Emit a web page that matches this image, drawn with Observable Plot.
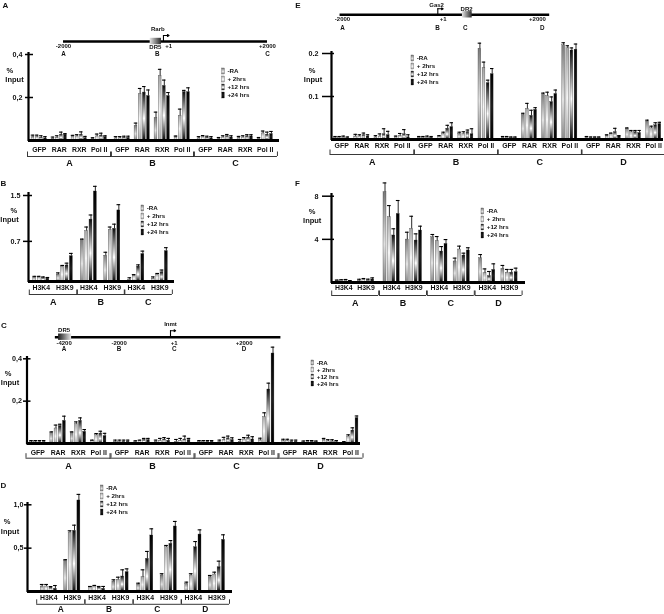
<!DOCTYPE html>
<html><head><meta charset="utf-8">
<script src="https://cdn.jsdelivr.net/npm/d3@7"></script>
<script src="https://cdn.jsdelivr.net/npm/@observablehq/plot@0.6"></script>
<style>
html,body{margin:0;padding:0;background:#fff;}
#fig{position:relative;width:664px;height:614px;overflow:hidden;background:#fff;}
#fig svg{will-change:transform;}
</style></head><body>
<svg width="0" height="0" style="position:absolute">
 <defs>
  <linearGradient id="tp0" x1="0" y1="0" x2="0" y2="1">
   <stop offset="0" stop-color="#7a7a7a"/><stop offset="0.58" stop-color="#e2e2e2"/><stop offset="1" stop-color="#8a8a8a"/>
  </linearGradient>
  <linearGradient id="tp1" x1="0" y1="0" x2="0" y2="1">
   <stop offset="0" stop-color="#a5a5a5"/><stop offset="0.55" stop-color="#f6f6f6"/><stop offset="1" stop-color="#b0b0b0"/>
  </linearGradient>
  <linearGradient id="tp2" x1="0" y1="0" x2="0" y2="1">
   <stop offset="0" stop-color="#0a0a0a"/><stop offset="0.55" stop-color="#ffffff"/><stop offset="1" stop-color="#0a0a0a"/>
  </linearGradient>
  <linearGradient id="tp3" x1="0" y1="0" x2="0" y2="1">
   <stop offset="0" stop-color="#000"/><stop offset="0.5" stop-color="#1e1e1e"/><stop offset="1" stop-color="#000"/>
  </linearGradient>
  <linearGradient id="drLR" x1="0" y1="0" x2="1" y2="0">
   <stop offset="0" stop-color="#e6e6e6"/><stop offset="1" stop-color="#2a2a2a"/>
  </linearGradient>
  <linearGradient id="drRL" x1="0" y1="0" x2="1" y2="0">
   <stop offset="0" stop-color="#1a1a1a"/><stop offset="1" stop-color="#e6e6e6"/>
  </linearGradient>
 </defs>
</svg>
<div id="fig"></div>
<script>
// ---------------- DATA ----------------
const timepoints = ["-RA", "+ 2hrs", "+12 hrs", "+24 hrs"];
const tfFactors = ["GFP", "RAR", "RXR", "Pol II"];
const histFactors = ["H3K4", "H3K9"];
const rarbRegions = ["A", "B", "C"];
const fourRegions = ["A", "B", "C", "D"];

// Panel A: Rarb, TF ChIP (% input); per region: GFP x4, RAR x4, RXR x4, Pol II x4
const rarbTfA = [0.015,0.015,0.012,0.010, 0.008,0.012,0.027,0.027, 0.019,0.019,0.027,0.011, 0.008,0.019,0.023,0.016];
const rarbTfErrA = [0.010,0.010,0.010,0.008, 0.008,0.010,0.012,0.005, 0.005,0.008,0.013,0.008, 0.005,0.011,0.011,0.006];
const rarbTfB = [0.010,0.010,0.012,0.012, 0.068,0.215,0.223,0.207, 0.105,0.300,0.254,0.207, 0.015,0.115,0.225,0.225];
const rarbTfErrB = [0.008,0.008,0.008,0.008, 0.013,0.027,0.028,0.028, 0.027,0.031,0.027,0.016, 0.006,0.031,0.008,0.020];
const rarbTfC = [0.010,0.015,0.012,0.010, 0.006,0.014,0.020,0.014, 0.011,0.014,0.019,0.019, 0.008,0.033,0.027,0.030];
const rarbTfErrC = [0.008,0.008,0.008,0.008, 0.008,0.008,0.008,0.008, 0.008,0.008,0.008,0.008, 0.006,0.011,0.012,0.012];
const rarbTfTicks = [0.2, 0.4], rarbTfTickLabels = ["0,2", "0,4"];

// Panel B: Rarb, histone marks; per region: H3K4 x4, H3K9 x4
const rarbHistA = [0.07,0.07,0.06,0.05, 0.12,0.26,0.28,0.44];
const rarbHistErrA = [0.02,0.02,0.02,0.02, 0.03,0.02,0.04,0.05];
const rarbHistB = [0.72,0.88,1.08,1.57, 0.45,0.90,0.92,1.24];
const rarbHistErrB = [0.02,0.07,0.08,0.09, 0.06,0.05,0.08,0.10];
const rarbHistC = [0.03,0.10,0.26,0.48, 0.05,0.12,0.16,0.53];
const rarbHistErrC = [0.035,0.02,0.03,0.05, 0.03,0.02,0.04,0.06];
const rarbHistTicks = [0.7, 1.5], rarbHistTickLabels = ["0.7", "1.5"];

// Panel C: Inmt, TF ChIP
const inmtTfA = [0.006,0.006,0.006,0.006, 0.050,0.071,0.082,0.107, 0.050,0.091,0.107,0.055, 0.013,0.039,0.047,0.035];
const inmtTfErrA = [0.008,0.008,0.008,0.008, 0.005,0.016,0.009,0.022, 0.005,0.011,0.014,0.011, 0.003,0.008,0.011,0.013];
const inmtTfB = [0.008,0.008,0.008,0.008, 0.008,0.011,0.016,0.016, 0.008,0.013,0.019,0.013, 0.008,0.013,0.019,0.016];
const inmtTfErrB = [0.008,0.008,0.008,0.008, 0.005,0.005,0.008,0.008, 0.008,0.011,0.009,0.011, 0.011,0.011,0.016,0.008];
const inmtTfC = [0.008,0.008,0.008,0.008, 0.008,0.016,0.024,0.016, 0.008,0.019,0.028,0.019, 0.015,0.125,0.255,0.425];
const inmtTfErrC = [0.006,0.006,0.006,0.006, 0.008,0.013,0.011,0.011, 0.011,0.009,0.011,0.013, 0.010,0.020,0.030,0.030];
const inmtTfD = [0.012,0.012,0.008,0.008, 0.006,0.008,0.008,0.006, 0.016,0.010,0.010,0.006, 0.005,0.033,0.061,0.120];
const inmtTfErrD = [0.008,0.008,0.008,0.008, 0.006,0.006,0.006,0.006, 0.008,0.008,0.008,0.008, 0.004,0.008,0.013,0.010];
const inmtTfTicks = [0.2, 0.4], inmtTfTickLabels = ["0,2", "0,4"];

// Panel D: Inmt, histone marks
const inmtHistA = [0.058,0.058,0.042,0.031, 0.357,0.68,0.70,1.05];
const inmtHistErrA = [0.023,0.023,0.015,0.038, 0.01,0.02,0.065,0.07];
const inmtHistB = [0.05,0.058,0.043,0.031, 0.115,0.135,0.173,0.223];
const inmtHistErrB = [0.008,0.012,0.015,0.027, 0.02,0.03,0.077,0.038];
const inmtHistC = [0.081,0.165,0.377,0.646, 0.185,0.511,0.55,0.75];
const inmtHistErrC = [0.015,0.085,0.085,0.077, 0.02,0.02,0.038,0.058];
const inmtHistD = [0.088,0.185,0.511,0.657, 0.165,0.196,0.28,0.596];
const inmtHistErrD = [0.02,0.02,0.065,0.054, 0.02,0.027,0.07,0.058];
const inmtHistTicks = [0.5, 1.0], inmtHistTickLabels = ["0,5", "1,0"];

// Panel E: Gas2, TF ChIP
const gasTfA = [0.004,0.004,0.005,0.003, 0.007,0.007,0.010,0.007, 0.005,0.007,0.012,0.010, 0.005,0.008,0.012,0.005];
const gasTfErrA = [0.003,0.003,0.003,0.003, 0.005,0.004,0.005,0.004, 0.004,0.006,0.013,0.009, 0.003,0.006,0.011,0.006];
const gasTfB = [0.004,0.004,0.005,0.004, 0.007,0.013,0.025,0.029, 0.013,0.013,0.017,0.012, 0.211,0.166,0.131,0.152];
const gasTfErrB = [0.003,0.003,0.003,0.003, 0.002,0.004,0.008,0.010, 0.004,0.005,0.005,0.013, 0.013,0.014,0.007,0.013];
const gasTfC = [0.004,0.004,0.003,0.003, 0.057,0.071,0.055,0.069, 0.105,0.101,0.087,0.106, 0.219,0.212,0.207,0.209];
const gasTfErrC = [0.003,0.003,0.003,0.003, 0.004,0.013,0.013,0.005, 0.003,0.009,0.012,0.009, 0.006,0.006,0.006,0.013];
const gasTfD = [0.004,0.003,0.003,0.003, 0.009,0.013,0.017,0.007, 0.025,0.017,0.017,0.015, 0.042,0.026,0.033,0.036];
const gasTfErrD = [0.003,0.003,0.003,0.003, 0.002,0.002,0.009,0.002, 0.002,0.004,0.004,0.006, 0.003,0.005,0.006,0.004];
const gasTfTicks = [0.1, 0.2], gasTfTickLabels = ["0.1", "0.2"];

// Panel F: Gas2, histone marks
const gasHistA = [0.15,0.18,0.20,0.10, 0.15,0.25,0.19,0.28];
const gasHistErrA = [0.08,0.08,0.08,0.08, 0.15,0.12,0.12,0.15];
const gasHistB = [8.37,6.05,4.36,6.36, 3.98,4.97,3.89,4.82];
const gasHistErrB = [0.86,1.08,0.62,1.24, 0.68,1.17,0.62,0.40];
const gasHistC = [4.20,3.83,2.87,3.58, 1.95,3.06,2.50,2.97];
const gasHistErrC = [0.25,0.43,0.46,0.40, 0.31,0.31,0.22,0.25];
const gasHistD = [2.25,0.86,0.59,1.17, 1.27,0.90,0.90,0.96];
const gasHistErrD = [0.34,0.40,0.43,0.56, 0.31,0.31,0.31,0.37];
const gasHistTicks = [4, 8], gasHistTickLabels = ["4", "8"];

// Gene diagrams (genomic positions, bp)
const rarbGene = "Rarb", gas2Gene = "Gas2", inmtGene = "Inmt";
const rarbSiteLabels = ["-2000", "+1", "+2000"], rarbSitePos = [-2000, 0, 2000];
const rarbRegionPos = [-2000, -160, 2000];
const gasSiteLabels = ["-2000", "+1", "+2000"], gasSitePos = [-2000, 0, 2000];
const gasRegionPos = [-2000, -50, 520, 2100];
const inmtSiteLabels = ["-4200", "-2000", "+1", "+2000"], inmtSitePos = [-4200, -2000, 0, 2000];
const inmtRegionPos = [-4200, -2000, 0, 2000];

// ---------------- LAYOUT ----------------
const FONT = "Liberation Sans, Arial, Helvetica, sans-serif";
const TXT = {fontFamily: FONT, fontWeight: "bold", fill: "#111"};
const fig = document.getElementById("fig");
function mount(svg) {
  Object.assign(svg.style, {position: "absolute", left: "0px", top: "0px", background: "none", overflow: "visible", maxWidth: "none"});
  fig.appendChild(svg);
}

const L_A = {axisX: 28, axisTop: 52, firstBar: 32.5, barStep: 4.15, F: 20, R: 83, zeroY: 140, topVal: 0.4, topY: 54,
  tickL: 3, tickR: 5, gap: 6, baseEnd: 279, labelY: 149, bracketY: 156, letterY: 163,
  pct: [9.3, 70], input: [14, 79], panel: ["A", 5, 5], legend: [223, 70.7, 8.35]};
const L_B = {axisX: 28, axisTop: 192, firstBar: 34.3, barStep: 4.35, F: 23.5, R: 47.5, zeroY: 281, topVal: 1.5, topY: 195,
  tickL: 5, tickR: 4, gap: 8, baseEnd: 174, labelY: 287.3, bracketY: 294, letterY: 301.7,
  pct: [13.3, 210], input: [9, 219.5], panel: ["B", 3, 183.3], legend: [142.3, 206.7, 8.5]};
const L_C = {axisX: 26.5, axisTop: 356, firstBar: 31, barStep: 4.2, F: 20.3, R: 84, zeroY: 443, topVal: 0.4, topY: 358.3,
  tickL: 3.5, tickR: 4, gap: 5, baseEnd: 360, labelY: 452.3, bracketY: 457.7, letterY: 465.7,
  pct: [7.6, 373.3], input: [9.5, 381.7], panel: ["C", 3.5, 325], legend: [312.3, 361, 7.8]};
const L_D = {axisX: 27, axisTop: 502, firstBar: 41.7, barStep: 4.4, F: 23.5, R: 48.2, zeroY: 591, topVal: 1.0, topY: 504.3,
  tickL: 3, tickR: 4.5, gap: 4, baseEnd: 232, labelY: 597.3, bracketY: 603.8, letterY: 608.6,
  pct: [6.5, 520.7], input: [9.5, 530.7], panel: ["D", 3, 485], legend: [101.7, 486.7, 8.5], letterSize: 8.4};
const L_E = {axisX: 331, axisTop: 51, firstBar: 335, barStep: 4.1, F: 20.2, R: 83.8, zeroY: 139, topVal: 0.2, topY: 53,
  tickL: 9, tickR: 3, gap: 13, baseEnd: 663, labelY: 145.7, bracketY: 154, letterY: 161.7,
  pct: [311.7, 70], input: [312.5, 79], panel: ["E", 297.5, 4.5], legend: [412.3, 56.7, 8.5]};
const L_F = {axisX: 331, axisTop: 193, firstBar: 336.7, barStep: 4.4, F: 22.3, R: 47.8, zeroY: 282, topVal: 8, topY: 195.7,
  tickL: 9, tickR: 3, gap: 13, baseEnd: 525, labelY: 287.7, bracketY: 295, letterY: 302.3,
  pct: [311.7, 211], input: [311.7, 220], panel: ["F", 297, 183.3], legend: [482.3, 209.3, 8.8]};

function barPanel(L, factors, regions, means, errs, tickVals, tickLabels) {
  const xu = px => (px - L.firstBar) / L.barStep;
  const yv = py => (L.zeroY - py) * L.topVal / (L.zeroY - L.topY);
  const Fu = L.F / L.barStep, Ru = L.R / L.barStep, nt = timepoints.length;
  const rows = [];
  regions.forEach((reg, ri) => factors.forEach((fac, fi) => timepoints.forEach((tp, ti) => {
    const k = fi * nt + ti;
    rows.push({reg, fac, tp, ti, u: ri * Ru + fi * Fu + ti, v: means[ri][k], e: errs[ri][k]});
  })));
  const facRows = regions.flatMap((reg, ri) => factors.map((fac, fi) => ({fac, u: ri * Ru + fi * Fu + (nt - 1) / 2})));
  const lastU = (factors.length - 1) * Fu + nt - 1;
  const regRows = regions.map((reg, ri) => ({reg, a: ri * Ru - 5.5 / L.barStep, b: ri * Ru + lastU + 6 / L.barStep}));
  const ends = regRows.flatMap(r => [r.a, r.b]);
  const bw = 0.34, cw = 0.42;
  const marks = [
    ...timepoints.map((tp, ti) => Plot.rect(rows.filter(d => d.ti === ti), {
      x1: d => d.u - bw, x2: d => d.u + bw, y1: 0, y2: "v",
      fill: `url(#tp${ti})`, stroke: "#2a2a2a", strokeWidth: 0.3})),
    Plot.ruleX(rows, {x: "u", y1: "v", y2: d => d.v + d.e, stroke: "#000", strokeWidth: 0.85}),
    Plot.ruleY(rows, {y: d => d.v + d.e, x1: d => d.u - cw, x2: d => d.u + cw, stroke: "#000", strokeWidth: 1.1}),
    Plot.ruleY([0], {x1: xu(L.axisX), x2: xu(L.baseEnd), stroke: "#000", strokeWidth: 2.8}),
    Plot.ruleX([xu(L.axisX)], {y1: yv(L.zeroY + 1), y2: yv(L.axisTop), stroke: "#000", strokeWidth: 2.2}),
    Plot.ruleY(tickVals, {y: d => d, x1: xu(L.axisX - L.tickL), x2: xu(L.axisX + L.tickR), stroke: "#000", strokeWidth: 1.5}),
    Plot.text(tickVals, {y: d => d, x: xu(L.axisX - L.gap), text: (d, i) => tickLabels[i], textAnchor: "end", fontSize: 7.2, ...TXT}),
    Plot.text(["%"], {x: xu(L.pct[0]), y: yv(L.pct[1]), text: d => d, fontSize: 7.5, ...TXT}),
    Plot.text(["Input"], {x: xu(L.input[0]), y: yv(L.input[1]), text: d => d, fontSize: 7.5, ...TXT}),
    Plot.text(facRows, {x: "u", y: yv(L.labelY), text: "fac", fontSize: 6.9, ...TXT}),
    Plot.ruleY(regRows, {y: yv(L.bracketY), x1: "a", x2: "b", stroke: "#222", strokeWidth: 0.9}),
    Plot.ruleX(ends, {x: d => d, y1: yv(L.bracketY), y2: yv(L.bracketY - 4.5), stroke: "#222", strokeWidth: 0.9}),
    Plot.text(regRows, {x: d => (d.a + d.b) / 2, y: yv(L.letterY), text: "reg", fontSize: L.letterSize || 9, ...TXT}),
    Plot.text([L.panel[0]], {x: xu(L.panel[1]), y: yv(L.panel[2]), text: d => d, fontSize: 8, ...TXT})
  ];
  mount(Plot.plot({
    width: 664, height: 614,
    x: {type: "linear", domain: [0, 1], range: [L.firstBar, L.firstBar + L.barStep], axis: null},
    y: {type: "linear", domain: [0, L.topVal], range: [L.zeroY, L.topY], axis: null},
    marks
  }));
  // legend
  const [lx, ly, ls] = L.legend;
  mount(Plot.plot({
    width: 664, height: 614,
    x: {type: "linear", domain: [0, 1], range: [lx - 1.3, lx + 1.3], axis: null},
    y: {type: "band", domain: timepoints, range: [ly - ls / 2, ly + (nt - 0.5) * ls], paddingInner: 0.28, paddingOuter: 0.14, axis: null},
    marks: [
      ...timepoints.map((tp, ti) => Plot.barX([tp], {y: d => d, x1: 0, x2: 1, fill: `url(#tp${ti})`, stroke: "#2a2a2a", strokeWidth: 0.3})),
      Plot.text(timepoints, {y: d => d, x: 1, dx: 2.7, text: d => d, textAnchor: "start", fontSize: 6.2, ...TXT})
    ]
  }));
}

function diagram(D) {
  const marks = [
    Plot.ruleY([0], {x1: D.line[0], x2: D.line[1], stroke: "#000", strokeWidth: 2.6}),
    Plot.rect([D.box], {x1: d => d[0], x2: d => d[1], y1: -3.2, y2: 3.2, fill: D.boxFill}),
    Plot.text([D.boxLabel], {x: D.boxPos, y: D.boxDy, text: d => d, fontSize: 6, ...TXT}),
    Plot.text(D.sites, {x: (d, i) => D.sitePos[i], y: D.topDy, text: d => d, fontSize: 6, ...TXT}),
    Plot.text(D.regions, {x: (d, i) => D.regionPos[i], y: D.letterDy, text: d => d, fontSize: 6.3, ...TXT}),
    Plot.text([D.gene], {x: D.genePos, y: D.geneDy, text: d => d, fontSize: 6, ...TXT}),
    Plot.ruleX([D.arrow[0]], {y1: 0, y2: -D.arrow[2], stroke: "#000", strokeWidth: 1.1}),
    Plot.arrow([D.arrow], {x1: d => d[0], y1: d => -d[2], x2: d => d[0] + d[1], y2: d => -d[2], headLength: 3.2, stroke: "#000", strokeWidth: 1.1})
  ];
  mount(Plot.plot({
    width: 664, height: 614,
    x: {type: "linear", domain: D.domain, range: D.range, axis: null},
    y: {type: "linear", domain: [0, 10], range: [D.lineY, D.lineY + 10], axis: null},
    marks
  }));
}

// Diagrams
diagram({lineY: 41, domain: [-2000, 2000], range: [63, 267], line: [-2000, 2000],
  box: [-300, -80], boxFill: "url(#drLR)", boxLabel: "DR5", boxPos: -200, boxDy: 6,
  sites: rarbSiteLabels, sitePos: rarbSitePos.map((p, i) => rarbSiteLabels[i] === "+1" ? p + 60 : p), topDy: 5,
  regions: rarbRegions, regionPos: rarbRegionPos, letterDy: 12,
  gene: rarbGene, genePos: -150, geneDy: -12, arrow: [-40, 110, 6]});
diagram({lineY: 14.3, domain: [-2000, 2000], range: [342, 537], line: [-2050, 2250],
  box: [460, 660], boxFill: "url(#drLR)", boxLabel: "DR2", boxPos: 545, boxDy: -5.5,
  sites: gasSiteLabels, sitePos: gasSitePos.map((p, i) => gasSiteLabels[i] === "+1" ? p + 65 : p), topDy: 4.7,
  regions: fourRegions, regionPos: gasRegionPos, letterDy: 13,
  gene: gas2Gene, genePos: -70, geneDy: -10, arrow: [-45, 110, 6]});
diagram({lineY: 336.7, domain: [-4200, -2000, 0, 2000], range: [63.6, 118.6, 170, 243.6], line: [-4550, 3000],
  box: [-4420, -3900], boxFill: "url(#drRL)", boxLabel: "DR5", boxPos: -4200, boxDy: -6.7,
  sites: inmtSiteLabels, sitePos: inmtSitePos.map((p, i) => inmtSiteLabels[i] === "+1" ? p + 100 : p), topDy: 6,
  regions: fourRegions, regionPos: inmtRegionPos.map(p => p === 0 ? 100 : p), letterDy: 11.6,
  gene: inmtGene, genePos: 0, geneDy: -12.7, arrow: [0, 140, 6.5]});

// Bar panels
barPanel(L_A, tfFactors, rarbRegions, [rarbTfA, rarbTfB, rarbTfC], [rarbTfErrA, rarbTfErrB, rarbTfErrC], rarbTfTicks, rarbTfTickLabels);
barPanel(L_B, histFactors, rarbRegions, [rarbHistA, rarbHistB, rarbHistC], [rarbHistErrA, rarbHistErrB, rarbHistErrC], rarbHistTicks, rarbHistTickLabels);
barPanel(L_C, tfFactors, fourRegions, [inmtTfA, inmtTfB, inmtTfC, inmtTfD], [inmtTfErrA, inmtTfErrB, inmtTfErrC, inmtTfErrD], inmtTfTicks, inmtTfTickLabels);
barPanel(L_D, histFactors, fourRegions, [inmtHistA, inmtHistB, inmtHistC, inmtHistD], [inmtHistErrA, inmtHistErrB, inmtHistErrC, inmtHistErrD], inmtHistTicks, inmtHistTickLabels);
barPanel(L_E, tfFactors, fourRegions, [gasTfA, gasTfB, gasTfC, gasTfD], [gasTfErrA, gasTfErrB, gasTfErrC, gasTfErrD], gasTfTicks, gasTfTickLabels);
barPanel(L_F, histFactors, fourRegions, [gasHistA, gasHistB, gasHistC, gasHistD], [gasHistErrA, gasHistErrB, gasHistErrC, gasHistErrD], gasHistTicks, gasHistTickLabels);
</script>
</body></html>
